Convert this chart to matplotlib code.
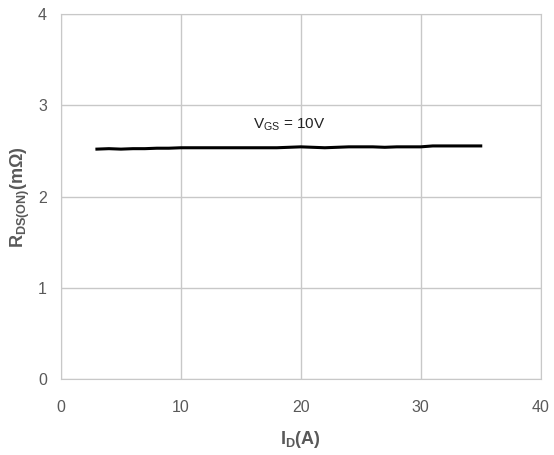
import matplotlib
matplotlib.use("Agg")
import matplotlib.pyplot as plt

plt.rcParams['font.family'] = ['Liberation Sans', 'DejaVu Sans']
plt.rcParams['mathtext.fontset'] = 'custom'
plt.rcParams['mathtext.rm'] = 'Liberation Sans'
plt.rcParams['mathtext.bf'] = 'Liberation Sans:bold'
plt.rcParams['mathtext.it'] = 'Liberation Sans:italic'

# Drain current (A) and on-resistance (mOhm) at VGS = 10V
current = [3, 4, 5, 6, 7, 8, 9, 10, 11, 12, 13, 14, 15, 16, 17, 18, 19,
           20, 21, 22, 23, 24, 25, 26, 27, 28, 29, 30, 31, 32, 33, 34, 35]
rdson = [2.52, 2.525, 2.52, 2.525, 2.525, 2.53, 2.53, 2.535, 2.535, 2.535,
         2.535, 2.535, 2.535, 2.535, 2.535, 2.535, 2.54, 2.545, 2.54, 2.535,
         2.54, 2.545, 2.545, 2.545, 2.54, 2.545, 2.545, 2.545, 2.555,
         2.555, 2.555, 2.555, 2.555]

gray = '#595959'
fig = plt.figure(figsize=(5.54, 4.55), dpi=100)
ax = fig.add_axes([0.110, 0.167, 0.866, 0.802])
ax.plot(current, rdson, color='black', lw=2.2)
ax.set_xlim(0, 40)
ax.set_ylim(0, 4)
ax.set_xticks([0, 10, 20, 30, 40])
ax.set_yticks([0, 1, 2, 3, 4])
ax.grid(True, color='#c8c8c8', lw=1)
ax.set_axisbelow(True)
for s in ax.spines.values():
    s.set_color('#c8c8c8')
ax.tick_params(length=0, labelsize=11.5, labelcolor=gray)
ax.tick_params(axis='x', pad=15)
ax.tick_params(axis='y', pad=10)

ax.set_xlabel(r'$\mathbf{I_{D}(A)}$', fontsize=13, color=gray, labelpad=10)
ax.set_ylabel(r'$\mathbf{R_{DS(ON)}(m\Omega)}$', fontsize=13, color=gray, labelpad=4)
ax.text(16, 2.74, r'$\mathrm{V_{GS}}$ = 10V', fontsize=11, color='#222222')

fig.savefig('out.png', dpi=100)
